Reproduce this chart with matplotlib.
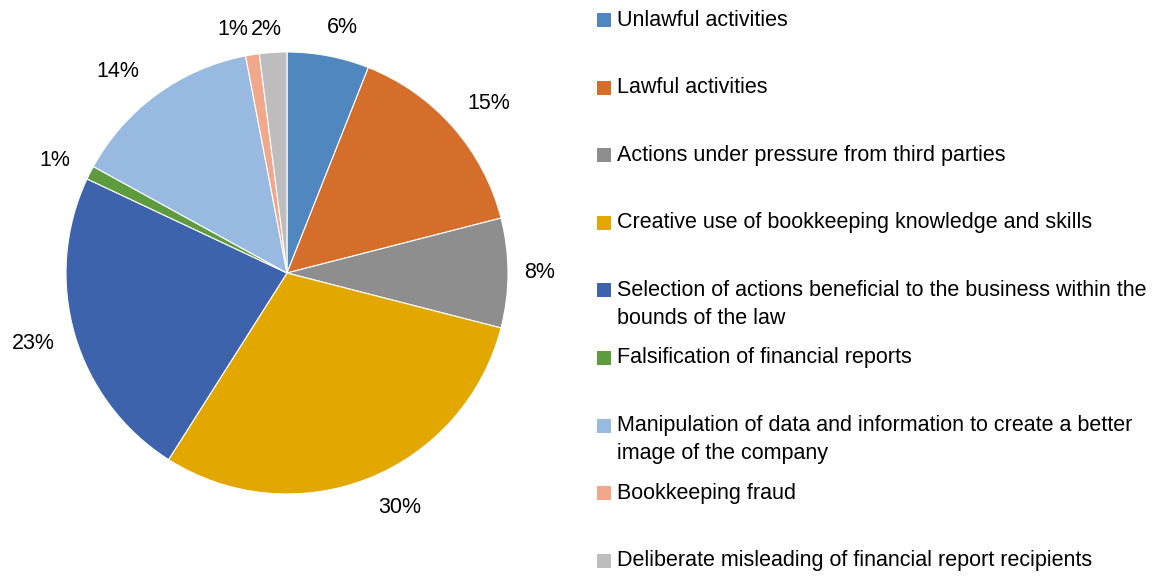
import matplotlib.pyplot as plt
from matplotlib.patches import Rectangle

plt.rcParams['font.family'] = ['Liberation Sans', 'DejaVu Sans']

# data
labels = [
    'Unlawful activities',
    'Lawful activities',
    'Actions under pressure from third parties',
    'Creative use of bookkeeping knowledge and skills',
    'Selection of actions beneficial to the business within the\nbounds of the law',
    'Falsification of financial reports',
    'Manipulation of data and information to create a better\nimage of the company',
    'Bookkeeping fraud',
    'Deliberate misleading of financial report recipients',
]
shares = [6, 15, 8, 30, 23, 1, 14, 1, 2]
colors = ['#4F87BE', '#D46E2A', '#8E8E8E', '#E3A800', '#3C63AB',
          '#5E9B3E', '#98B9E0', '#F0A78A', '#BDBDBD']

# where the percent labels sit (pie radius = 1), Excel style "outside end"
label_pos = [(0.249, 1.109), (0.914, 0.769), (1.145, 0.0), (0.511, -1.059),
             (-1.149, -0.317), (-1.050, 0.511), (-0.765, 0.910),
             (-0.245, 1.100), (-0.095, 1.100)]

W, H = 1162, 576
fig = plt.figure(figsize=(W / 100, H / 100), dpi=100)

# pie axes (pixel based placement)
cx, cy, r = 287, 273, 221
ax = fig.add_axes([(cx - r) / W, (H - cy - r) / H, 2 * r / W, 2 * r / H])
wedges, texts, autotexts = ax.pie(
    shares, colors=colors, startangle=90, counterclock=False,
    autopct='%1.0f%%', pctdistance=1.16,
    wedgeprops={'edgecolor': 'white', 'linewidth': 0.8},
    textprops={'fontsize': 15.5, 'color': 'black'},
)
for t, pos in zip(autotexts, label_pos):
    t.set_position(pos)
ax.set_xlim(-1, 1)
ax.set_ylim(-1, 1)
ax.set_aspect('auto')
ax.axis('off')

# legend drawn by hand
y0, pitch, line_gap = 20, 67.6, 28
for i, (lab, c) in enumerate(zip(labels, colors)):
    y = y0 + i * pitch
    fig.patches.append(Rectangle((597 / W, (H - y - 7) / H), 14 / W, 14 / H,
                                 transform=fig.transFigure, facecolor=c,
                                 edgecolor='none'))
    for k, line in enumerate(lab.split('\n')):
        fig.text(617 / W, (H - y - k * line_gap) / H, line, fontsize=15.5,
                 va='center', ha='left', color='black')

fig.savefig('out.png', dpi=100)
